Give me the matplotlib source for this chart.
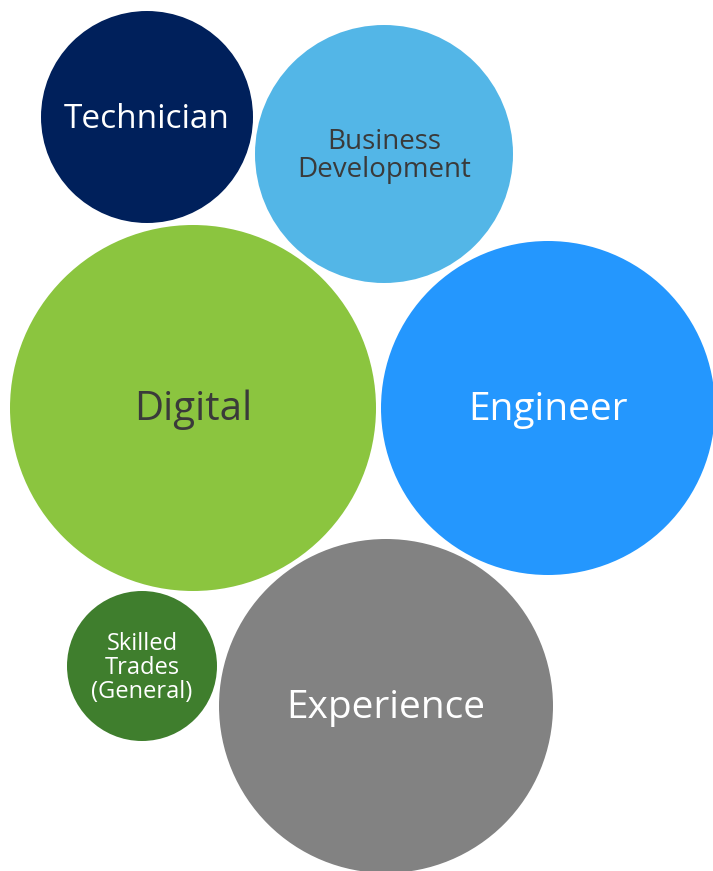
import matplotlib.pyplot as plt
from matplotlib.patches import Circle

# bubble data (pixel coordinates of the original layout)
labels = ['Technician', 'Business\nDevelopment', 'Digital', 'Engineer',
          'Skilled\nTrades\n(General)', 'Experience']
cx = [147, 384, 193, 548, 142, 386]
cy = [117, 154, 408, 408, 666, 706]
radius = [106, 129, 183, 167, 75, 167]
colors = ['#00205B', '#53B6E7', '#8BC53F', '#2497FE', '#3F7E2D', '#828282']
text_colors = ['white', '#3a3a3a', '#3a3a3a', 'white', 'white', 'white']
font_sizes = [24, 20, 29, 28, 17, 28]
line_sp = [1.0, 0.97, 1.0, 1.0, 1.0, 1.0]

plt.rcParams['font.family'] = ['Open Sans', 'DejaVu Sans']

fig = plt.figure(figsize=(7.13, 8.71), dpi=100)
ax = fig.add_axes([0, 0, 1, 1])
ax.set_xlim(0, 713)
ax.set_ylim(871, 0)
ax.set_aspect('equal')
ax.axis('off')

for i in range(len(labels)):
    ax.add_patch(Circle((cx[i], cy[i]), radius[i], color=colors[i], lw=0))
    ax.text(cx[i], cy[i] + 2, labels[i], ha='center', va='center',
            color=text_colors[i], fontsize=font_sizes[i],
            linespacing=line_sp[i])

fig.savefig('out.png', dpi=100)
